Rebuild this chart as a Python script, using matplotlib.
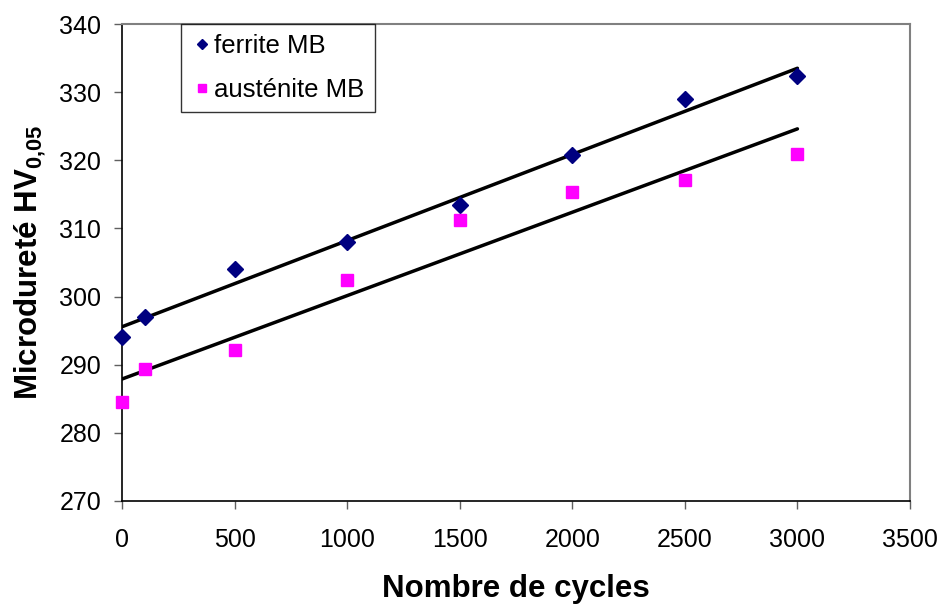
import numpy as np
import matplotlib
matplotlib.use("Agg")
import matplotlib.pyplot as plt

plt.rcParams['font.family'] = ['Liberation Sans', 'DejaVu Sans']
plt.rcParams['mathtext.fontset'] = 'custom'
plt.rcParams['mathtext.rm'] = 'Liberation Sans'
plt.rcParams['mathtext.bf'] = 'Liberation Sans:bold'

# Hardness versus number of cycles
cycles = [0, 100, 500, 1000, 1500, 2000, 2500, 3000]
ferrite_hv = [294.0, 297.0, 304.1, 308.0, 313.4, 320.8, 329.0, 332.3]
austenite_hv = [284.5, 289.4, 292.1, 302.4, 311.2, 315.3, 317.1, 320.9]

x_ticks = [0, 500, 1000, 1500, 2000, 2500, 3000, 3500]
y_ticks = [270, 280, 290, 300, 310, 320, 330, 340]

fig = plt.figure(figsize=(9.43, 6.08), dpi=100)
ax = fig.add_axes([122 / 943, 1 - 501 / 608, (910 - 122) / 943, (501 - 24) / 608])

x = np.array(cycles, dtype=float)
line_x = np.array([min(cycles), max(cycles)], dtype=float)

# linear trend lines
for ys in (ferrite_hv, austenite_hv):
    slope, icpt = np.polyfit(x, np.array(ys), 1)
    ax.plot(line_x, slope * line_x + icpt, color='black', lw=2.5,
            solid_capstyle='round', zorder=2)

ax.plot(cycles, ferrite_hv, linestyle='none', marker='D', ms=8,
        color='#000080', label='ferrite MB', zorder=3, clip_on=False)
ax.plot(cycles, austenite_hv, linestyle='none', marker='s', ms=8.5,
        color='#FF00FF', label='austénite MB', zorder=3, clip_on=False)

ax.set_xlim(0, 3500)
ax.set_ylim(270, 340)
ax.set_xticks(x_ticks)
ax.set_yticks(y_ticks)
ax.tick_params(direction='out', length=6, width=1, color='#606060',
               labelsize=18)
ax.tick_params(axis='x', pad=13.5)
ax.tick_params(axis='y', pad=9)

for side in ('left', 'bottom'):
    ax.spines[side].set_color('black')
    ax.spines[side].set_linewidth(1.2)
for side in ('top', 'right'):
    ax.spines[side].set_color('#808080')
    ax.spines[side].set_linewidth(1.5)

ax.set_xlabel('Nombre de cycles', fontsize=22.5, fontweight='bold', labelpad=16)
ax.set_ylabel(r'Microdureté HV$_{\mathbf{0{,}05}}$', fontsize=22.5,
              fontweight='bold', labelpad=8)

leg = ax.legend(loc='upper left', bbox_to_anchor=((181 - 122) / 788, 1.0),
                fontsize=18.5, frameon=True, fancybox=False, borderpad=0.4,
                handletextpad=0.1, handlelength=0.8, labelspacing=0.75,
                markerscale=0.65, borderaxespad=0, handleheight=0.7)
leg.get_frame().set_edgecolor('black')
leg.get_frame().set_linewidth(1.0)

fig.savefig('out.png', dpi=100, facecolor='white')
